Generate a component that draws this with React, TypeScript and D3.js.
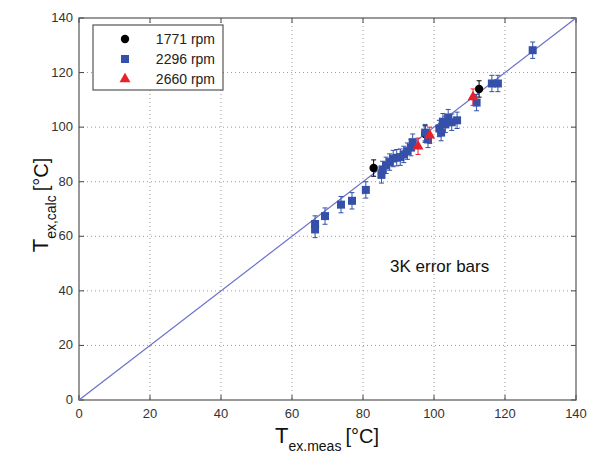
import React from "react";
import * as d3 from "d3";

const xTicks = [0, 20, 40, 60, 80, 100, 120, 140];
const yTicks = [0, 20, 40, 60, 80, 100, 120, 140];
const errorK = 3;

const rpm1771: [number, number][] = [
  [83, 85],
  [97.5, 97.5],
  [112.7, 114],
];

const rpm2296: [number, number][] = [
  [66.5, 64.5], [66.5, 62.5], [69.3, 67.4], [73.8, 71.6], [76.9, 73.0],
  [80.8, 77.0], [85.2, 82.5], [85.5, 84.5], [86.5, 86], [87.5, 87.2],
  [88.5, 88.5], [89.5, 88.8], [90.5, 89], [91.5, 90], [92.5, 91.2],
  [93.5, 92.5], [94, 94.5], [97.5, 98], [98.3, 95.5], [101.5, 99.5],
  [102, 98], [102.5, 102], [103.2, 101], [104, 103.5], [105, 101.8],
  [106.5, 102.5], [112, 109], [116.3, 116], [118, 116], [127.8, 128.2],
];

const rpm2660: [number, number][] = [
  [95.5, 93],
  [98.8, 97],
  [111, 111],
];

const legendLabels = ["1771 rpm", "2296 rpm", "2660 rpm"];

const W = 589, H = 455;
const L = 79, R = 576, T = 18, B = 400;
const BLUE = "#3450a8";
const RED = "#e8202a";
const BLACK = "#000";
const LINE = "#6a70cc";
const FONT = "Liberation Sans, Arial, sans-serif";

export default function App() {
  const x = d3.scaleLinear().domain([0, 140]).range([L, R]);
  const y = d3.scaleLinear().domain([0, 140]).range([B, T]);
  const line = d3.line<[number, number]>().x(d => x(d[0])).y(d => y(d[1]));

  const errBar = (d: [number, number], color: string, k: string) => {
    const cx = x(d[0]);
    const y1 = y(d[1] + errorK), y2 = y(d[1] - errorK);
    return (
      <g key={k} stroke={color} strokeWidth={1}>
        <line x1={cx} x2={cx} y1={y1} y2={y2} />
        <line x1={cx - 2.5} x2={cx + 2.5} y1={y1} y2={y1} />
        <line x1={cx - 2.5} x2={cx + 2.5} y1={y2} y2={y2} />
      </g>
    );
  };
  const square = (cx: number, cy: number, k: string) => (
    <rect key={k} x={cx - 4} y={cy - 4} width={8} height={8} fill={BLUE} />
  );
  const circle = (cx: number, cy: number, k: string) => (
    <circle key={k} cx={cx} cy={cy} r={4.2} fill={BLACK} />
  );
  const tri = (cx: number, cy: number, k: string) => (
    <path key={k} d={d3.symbol().type(d3.symbolTriangle).size(52)() || ""} transform={`translate(${cx},${cy})`} fill={RED} />
  );

  return (
    <div style={{ position: "absolute", left: 0, top: 0 }}>
      <svg width={W} height={H} style={{ display: "block", background: "#fff" }}>
        {/* grid */}
        <g stroke="#9a9a9a" strokeWidth={1} strokeDasharray="1,3">
          {xTicks.slice(1, -1).map(t => (
            <line key={"gx" + t} x1={x(t)} x2={x(t)} y1={T} y2={B} />
          ))}
          {yTicks.slice(1, -1).map(t => (
            <line key={"gy" + t} x1={L} x2={R} y1={y(t)} y2={y(t)} />
          ))}
        </g>
        {/* ticks */}
        <g stroke="#444" strokeWidth={1}>
          {xTicks.map(t => (
            <g key={"tx" + t}>
              <line x1={x(t)} x2={x(t)} y1={B} y2={B - 5} />
              <line x1={x(t)} x2={x(t)} y1={T} y2={T + 5} />
            </g>
          ))}
          {yTicks.map(t => (
            <g key={"ty" + t}>
              <line x1={L} x2={L + 5} y1={y(t)} y2={y(t)} />
              <line x1={R} x2={R - 5} y1={y(t)} y2={y(t)} />
            </g>
          ))}
        </g>
        {/* frame */}
        <rect x={L} y={T} width={R - L} height={B - T} fill="none" stroke="#555" strokeWidth={1.2} />
        {/* tick labels */}
        <g fontFamily={FONT} fontSize={13} fill="#333">
          {xTicks.map(t => (
            <text key={"lx" + t} x={x(t)} y={B + 18} textAnchor="middle">{t}</text>
          ))}
          {yTicks.map(t => (
            <text key={"ly" + t} x={L - 6} y={y(t) + 4} textAnchor="end">{t}</text>
          ))}
        </g>
        {/* identity line */}
        <path d={line([[0, 0], [140, 140]]) || ""} stroke={LINE} strokeWidth={1.2} fill="none" />
        {/* series: black first, then blue, then red */}
        {rpm1771.map((d, i) => errBar(d, BLACK, "ek" + i))}
        {rpm1771.map((d, i) => circle(x(d[0]), y(d[1]), "sk" + i))}
        {rpm2296.map((d, i) => errBar(d, BLUE, "eb" + i))}
        {rpm2296.map((d, i) => square(x(d[0]), y(d[1]), "sb" + i))}
        {rpm2660.map((d, i) => errBar(d, RED, "er" + i))}
        {rpm2660.map((d, i) => tri(x(d[0]), y(d[1]), "sr" + i))}
        {/* legend */}
        <rect x={93} y={25} width={130} height={65} fill="#fff" stroke="#555" strokeWidth={1.2} />
        {circle(125, 39, "lg0")}
        {square(125, 59, "lg1")}
        {tri(125, 79, "lg2")}
        <g fontFamily={FONT} fontSize={14} fill="#222" textAnchor="end">
          {legendLabels.map((s, i) => (
            <text key={s} x={215} y={44 + i * 20}>{s}</text>
          ))}
        </g>
        {/* annotation */}
        <text x={390} y={272} fontFamily={FONT} fontSize={17} fill="#111">3K error bars</text>
        {/* axis titles */}
        <text x={327} y={443} textAnchor="middle" fontFamily={FONT} fill="#111">
          <tspan fontSize={22}>T</tspan>
          <tspan fontSize={14} dy={8}>ex.meas</tspan>
          <tspan fontSize={20} dy={-8} dx={4}>[°C]</tspan>
        </text>
        <text transform="translate(48,205) rotate(-90)" textAnchor="middle" fontFamily={FONT} fill="#111">
          <tspan fontSize={22}>T</tspan>
          <tspan fontSize={14} dy={8}>ex,calc</tspan>
          <tspan fontSize={20} dy={-8} dx={4}>[°C]</tspan>
        </text>
      </svg>
    </div>
  );
}
